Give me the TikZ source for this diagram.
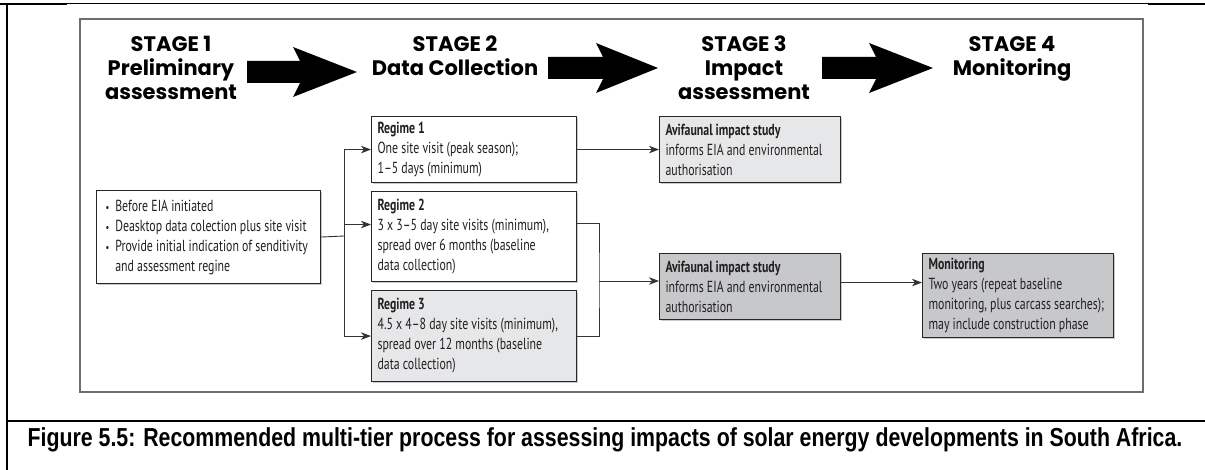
\documentclass[tikz,border=0pt]{standalone}
\usepackage{fontspec}
\setmainfont{PT Sans}
\newfontfamily\boxfont[FakeStretch=0.74]{PT Sans}
\newfontfamily\stagefont{Poppins}
\newfontfamily\capfont[FakeStretch=0.82]{Liberation Sans}
\usetikzlibrary{arrows.meta,shadows}
\definecolor{boxtext}{HTML}{231F20}
\definecolor{lightfill}{HTML}{E6E7E8}
\definecolor{darkfill}{HTML}{C7C8CA}
\definecolor{framegray}{HTML}{6D6E71}

\tikzset{
  stagehead/.style={anchor=north, align=center, inner sep=0pt, text=black,
    font=\stagefont\bfseries\fontsize{21}{24}\selectfont},
  databox/.style={draw=black!85, line width=1.1pt, fill=white, anchor=north west,
    inner xsep=6pt, inner ysep=0pt, align=flush left, text=boxtext,
    font=\boxfont\fontsize{16}{20}\selectfont,
    drop shadow={shadow xshift=1.5pt, shadow yshift=-1.5pt, opacity=.35, fill=black!60}},
  flowline/.style={line width=0.9pt, draw=black!80},
  flow/.style={flowline, -{Stealth[length=10pt,width=7.5pt,inset=3pt]}}
}

\begin{document}
\begin{tikzpicture}[x=1pt,y=-1pt]
    \useasboundingbox (0,0) rectangle (1205,470);

    \draw[line width=2pt] (0,4) -- (67,4);
    \draw[line width=1pt] (67,4) -- (1148,4);
    \draw[line width=2pt] (1148,4.5) -- (1205,4.5);
    \draw[line width=1.8pt] (7,4) -- (7,470);
    \draw[line width=2.2pt] (7,421) -- (1205,421);
    \draw[framegray, line width=1.5pt] (80,19) rectangle (1143,392);

    \node[stagehead] (headI) at (171,36) {STAGE 1\\Preliminary\\assessment};
    \node[stagehead] (headII) at (455,36) {STAGE 2\\Data Collection};
    \node[stagehead] (headIII) at (744,36) {STAGE 3\\Impact\\assessment};
    \node[stagehead] (headIV) at (1012,36) {STAGE 4\\Monitoring};

    \foreach \xa/\xb/\xt/\yc in {247/293/357/72, 548/596/658/68, 822/869/933/68}
        \fill (\xa,\yc-11) -- (\xb+7,\yc-11) -- (\xb,\yc-25) -- (\xt,\yc)
            -- (\xb,\yc+25) -- (\xb+7,\yc+11) -- (\xa,\yc+11) -- cycle;

    \node[databox, inner xsep=9pt, text width=206pt, minimum height=93pt] (stI) at (96,190)
        {\begin{tabular}{@{}l@{\hspace{6pt}}l@{}}
         \scalebox{.7}{\textbullet} & Before EIA initiated\\
         \scalebox{.7}{\textbullet} & Deasktop data colection plus site visit\\
         \scalebox{.7}{\textbullet} & Provide initial indication of senditivity\\
          & and assessment regine
         \end{tabular}};

    \node[databox, text width=193pt, minimum height=66pt] (regI) at (371,116)
        {\textbf{Regime 1}\\One site visit (peak season);\\1–5 days (minimum)};
    \node[databox, text width=193pt, minimum height=90pt] (regII) at (371,191)
        {\textbf{Regime 2}\\3 x 3–5 day site visits (minimum),\\spread over 6 months (baseline\\data collection)};
    \node[databox, fill=lightfill, text width=193pt, minimum height=91pt] (regIII) at (371,290)
        {\textbf{Regime 3}\\4.5 x 4–8 day site visits (minimum),\\spread over 12 months (baseline\\data collection)};

    \node[databox, fill=lightfill, text width=169pt, minimum height=66pt] (avI) at (659,116)
        {\textbf{Avifaunal impact study}\\informs EIA and environmental\\authorisation};
    \node[databox, fill=darkfill, text width=169pt, minimum height=66pt] (avII) at (659,253)
        {\textbf{Avifaunal impact study}\\informs EIA and environmental\\authorisation};
    \node[databox, fill=darkfill, text width=179pt, minimum height=84pt] (mon) at (922,253)
        {\textbf{Monitoring}\\Two years (repeat baseline\\monitoring, plus carcass searches);\\may include construction phase};

    \coordinate (jL) at (344,236);
    \coordinate (jR) at (599,281);
    \coordinate (regIIin) at ([yshift=12pt]regII.west);
    \draw[flowline] (stI.east) -- (jL);
    \draw[flow] (jL) |- (regI.west);
    \draw[flow] (jL) |- (regIII.west);
    \draw[flow] (jL |- regIIin) -- (regIIin);
    \draw[flowline] ([yshift=13pt]regII.east) -| (jR) |- (regIII.east);
    \draw[flow] (jR) -- (jR -| avII.west);
    \draw[flow] (regI.east) -- (avI.west);
    \draw[flow] ([yshift=4pt]avII.east) -- ([yshift=4pt]avII.east -| mon.west);

    \node[anchor=base, inner sep=0pt, font=\capfont\bfseries\fontsize{26}{30}\selectfont] (caption) at (605,446)
        {Figure 5.5: Recommended multi-tier process for assessing impacts of solar energy developments in South Africa.};
\end{tikzpicture}
\end{document}
